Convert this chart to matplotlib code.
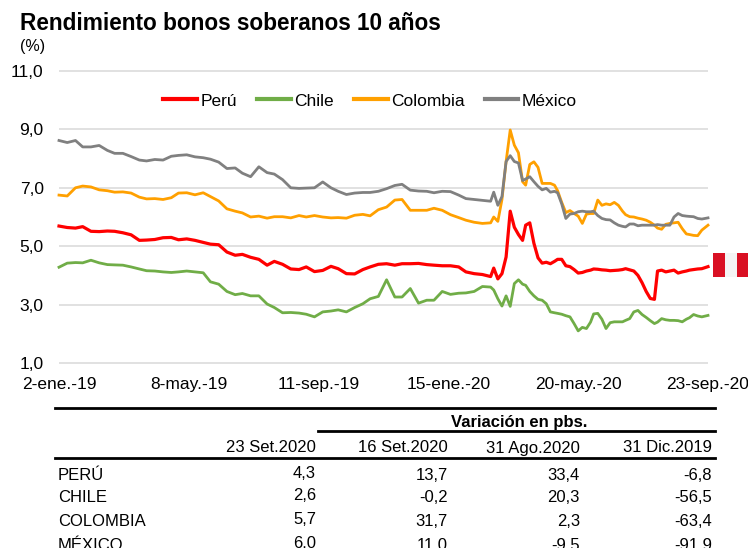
import matplotlib
matplotlib.use("Agg")
import matplotlib.pyplot as plt
from matplotlib.lines import Line2D
from matplotlib.patches import Rectangle

plt.rcParams['font.family'] = ['Liberation Sans', 'DejaVu Sans']

# ---------------- data ----------------
titulo = "Rendimiento bonos soberanos 10 años"
unidad = "(%)"

# days since 2-ene.-19
dias = [0, 8, 16, 23, 31, 39, 47, 54, 62, 70, 78, 85, 93, 101, 109, 116, 124, 132, 140, 147,
        155, 163, 171, 178, 186, 194, 202, 209, 217, 225, 233, 240, 248, 256, 264, 271, 279, 287,
        295, 302, 310, 318, 326, 333, 341, 349, 357, 364, 372, 380, 388, 395, 403, 411, 419,
        422, 426, 430, 434, 438, 442, 446, 450, 453, 457, 461, 465, 469, 473, 477, 481, 484, 488,
        492, 496, 500, 504, 508, 512, 516, 519, 523, 527, 531, 535, 539, 543, 547, 550, 554, 558,
        562, 566, 570, 574, 578, 581, 585, 589, 593, 597, 601, 605, 609, 612, 616, 620, 624, 630]

peru = [5.69, 5.64, 5.62, 5.67, 5.51, 5.50, 5.52, 5.51, 5.46, 5.39,
        5.20, 5.21, 5.23, 5.29, 5.30, 5.22, 5.25, 5.20, 5.13, 5.07,
        5.05, 4.80, 4.69, 4.72, 4.62, 4.55, 4.35, 4.48, 4.38, 4.22,
        4.20, 4.29, 4.13, 4.17, 4.31, 4.23, 4.06, 4.05, 4.20, 4.29,
        4.38, 4.40, 4.35, 4.40, 4.40, 4.41, 4.37, 4.35, 4.33, 4.33,
        4.29, 4.12, 4.06, 4.03, 3.96,
        4.25, 3.88, 4.06, 4.63, 6.20, 5.65, 5.40, 5.20, 5.72, 5.80,
        5.10, 4.60, 4.42, 4.45, 4.40, 4.48, 4.55, 4.55, 4.33, 4.30,
        4.20, 4.08, 4.10, 4.15, 4.18, 4.22, 4.21, 4.19, 4.18, 4.16,
        4.17, 4.18, 4.20, 4.23, 4.19, 4.15, 4.00, 3.75, 3.45, 3.21,
        3.18, 4.15, 4.18, 4.12, 4.15, 4.18, 4.08, 4.12, 4.15, 4.18,
        4.20, 4.22, 4.23, 4.30]

chile = [4.28, 4.42, 4.44, 4.43, 4.52, 4.43, 4.37, 4.36, 4.35, 4.29,
         4.22, 4.16, 4.15, 4.12, 4.10, 4.12, 4.15, 4.12, 4.09, 3.78,
         3.70, 3.45, 3.34, 3.38, 3.30, 3.30, 3.02, 2.90, 2.72, 2.73,
         2.71, 2.67, 2.58, 2.75, 2.78, 2.82, 2.75, 2.90, 3.03, 3.20,
         3.28, 3.85, 3.26, 3.26, 3.55, 3.05, 3.15, 3.15, 3.45, 3.35,
         3.39, 3.40, 3.45, 3.62, 3.60,
         3.50, 3.20, 2.95, 3.30, 2.94, 3.72, 3.85, 3.70, 3.66, 3.45,
         3.30, 3.18, 3.15, 3.03, 2.75, 2.72, 2.70, 2.67, 2.62, 2.58,
         2.35, 2.10, 2.22, 2.18, 2.40, 2.68, 2.70, 2.50, 2.18, 2.38,
         2.41, 2.41, 2.41, 2.46, 2.52, 2.75, 2.80, 2.66, 2.56, 2.45,
         2.35, 2.40, 2.52, 2.48, 2.46, 2.46, 2.45, 2.41, 2.50, 2.55,
         2.66, 2.61, 2.58, 2.63]

colombia = [6.75, 6.72, 7.00, 7.06, 7.03, 6.93, 6.90, 6.85, 6.86, 6.82,
            6.68, 6.62, 6.63, 6.60, 6.66, 6.82, 6.83, 6.76, 6.83, 6.70,
            6.55, 6.28, 6.20, 6.14, 6.00, 6.03, 5.96, 6.01, 6.01, 5.97,
            6.05, 6.00, 6.05, 6.00, 5.97, 5.98, 5.96, 6.06, 6.09, 6.04,
            6.25, 6.34, 6.58, 6.60, 6.23, 6.23, 6.23, 6.30, 6.23, 6.08,
            5.98, 5.89, 5.82, 5.78, 5.80,
            6.00, 5.85, 6.60, 7.90, 8.98, 8.46, 8.20, 7.21, 7.09, 7.80,
            7.89, 7.70, 7.15, 7.15, 7.15, 7.09, 6.90, 6.50, 6.15, 6.22,
            6.12, 6.03, 5.78, 6.10, 6.12, 6.12, 6.58, 6.40, 6.45, 6.42,
            6.50, 6.40, 6.20, 6.08, 6.01, 6.00, 5.96, 5.93, 5.89, 5.82,
            5.72, 5.62, 5.58, 5.75, 5.78, 5.80, 5.82, 5.60, 5.42, 5.40,
            5.37, 5.36, 5.55, 5.72]

mexico = [8.62, 8.55, 8.62, 8.40, 8.40, 8.45, 8.28, 8.18, 8.18, 8.07,
          7.95, 7.92, 7.97, 7.95, 8.08, 8.11, 8.13, 8.06, 8.03, 7.98,
          7.88, 7.66, 7.68, 7.50, 7.38, 7.72, 7.52, 7.47, 7.28, 7.00,
          6.98, 6.99, 7.00, 7.20, 7.00, 6.88, 6.77, 6.82, 6.84, 6.84,
          6.88, 6.97, 7.08, 7.12, 6.92, 6.89, 6.88, 6.83, 6.88, 6.87,
          6.75, 6.63, 6.60, 6.57, 6.54,
          6.85, 6.40, 6.70, 7.90, 8.10, 7.90, 7.85, 7.25, 7.30, 7.38,
          7.21, 7.05, 6.93, 6.98, 6.85, 6.88, 6.83, 6.45, 5.95, 6.10,
          6.12, 6.18, 6.20, 6.18, 6.18, 6.20, 6.05, 5.95, 5.91, 5.90,
          5.80, 5.72, 5.68, 5.66, 5.76, 5.76, 5.70, 5.72, 5.72, 5.72,
          5.72, 5.74, 5.72, 5.72, 5.72, 6.00, 6.12, 6.05, 6.03, 6.02,
          6.01, 5.95, 5.93, 5.97]

series_nombres = ["Perú", "Chile", "Colombia", "México"]
series_colores = ["#FF0000", "#70AD47", "#FFA000", "#808080"]

tick_dias = [0, 126, 252, 378, 504, 630]
tick_labels = ["2-ene.-19", "8-may.-19", "11-sep.-19", "15-ene.-20", "20-may.-20", "23-sep.-20"]
y_ticks = [1, 3, 5, 7, 9, 11]

tabla_paises = ["PERÚ", "CHILE", "COLOMBIA", "MÉXICO"]
tabla_cols = ["23 Set.2020", "16 Set.2020", "31 Ago.2020", "31 Dic.2019"]
nivel = [4.3, 2.6, 5.7, 6.0]
var_16set = [13.7, -0.2, 31.7, 11.0]
var_31ago = [33.4, 20.3, 2.3, -9.5]
var_31dic = [-6.8, -56.5, -63.4, -91.9]

# ---------------- figure ----------------
W, H = 748, 548
fig = plt.figure(figsize=(W / 100, H / 100), dpi=100)

def fx(x):
    return x / W

def fy(y):
    return 1 - y / H

ax_left, ax_right = 59, 708
ax_top, ax_bot = 71, 363
pad = 1.5
ax = fig.add_axes([fx(ax_left), fy(ax_bot + pad), (ax_right - ax_left) / W, (ax_bot - ax_top + 2 * pad) / H])
ypu = (ax_bot - ax_top) / 10.0
ax.set_ylim(1 - pad / ypu, 11 + pad / ypu)
ax.set_xlim(0, 630)

datos = [peru, chile, colombia, mexico]
anchos = [2.3, 2.0, 2.0, 2.0]
for vals, nom, col, lw in zip(datos, series_nombres, series_colores, anchos):
    ax.plot(dias, vals, color=col, lw=lw, label=nom, solid_joinstyle='round', clip_on=False)

ax.set_yticks(y_ticks)
ax.set_yticklabels([f"{v:.1f}".replace(".", ",") for v in y_ticks], fontsize=12.5)
ax.set_xticks(tick_dias)
ax.set_xticklabels(tick_labels, fontsize=12.5)
ax.tick_params(axis='both', length=0)
ax.tick_params(axis='y', pad=11)
ax.tick_params(axis='x', pad=9)
ax.grid(axis='y', color='#D9D9D9', lw=1.1)
ax.grid(axis='x', visible=False)
ax.set_axisbelow(True)
for s in ax.spines.values():
    s.set_visible(False)

leg = fig.legend(loc='center', bbox_to_anchor=(fx(370), fy(101)), ncol=4, frameon=False,
                 fontsize=12.5, handlelength=1.95, handletextpad=0.2, columnspacing=1.15)
for h in leg.legend_handles:
    h.set_linewidth(3)

fig.text(fx(20), fy(23), titulo, fontsize=16.3, fontweight='bold', va='center', ha='left')
fig.text(fx(20), fy(47), unidad, fontsize=11.5, va='center', ha='left')

# Peru flag
flag_y0, flag_y1 = 253, 277
for x0, x1, c in [(713, 725, '#D91023'), (725, 737, '#F4F4F4'), (737, 749, '#D91023')]:
    fig.add_artist(Rectangle((fx(x0), fy(flag_y1)), (x1 - x0) / W, (flag_y1 - flag_y0) / H,
                             transform=fig.transFigure, color=c, lw=0))

# ---------------- table ----------------
def hline(y, x0, x1, lw):
    fig.add_artist(Line2D([fx(x0), fx(x1)], [fy(y), fy(y)], transform=fig.transFigure,
                          color='black', lw=lw))

hline(408, 55, 715, 2.0)
hline(431, 318, 715, 2.0)
hline(458, 55, 715, 2.0)

fig.text(fx(519), fy(422), "Variación en pbs.", fontsize=12, fontweight='bold', ha='center', va='center')

col_right = [316, 448, 580, 712]
for xr, txt in zip(col_right, tabla_cols):
    fig.text(fx(xr), fy(448), txt, fontsize=12, ha='right', va='center')

def fmt(v):
    return f"{v:.1f}".replace(".", ",")

row_y = [475, 498, 522, 545]
for i, (pais, yrow) in enumerate(zip(tabla_paises, row_y)):
    fig.text(fx(58), fy(yrow), pais, fontsize=12, ha='left', va='center')
    for xr, col in zip(col_right, [nivel, var_16set, var_31ago, var_31dic]):
        fig.text(fx(xr), fy(yrow - 2 if xr == col_right[0] else yrow), fmt(col[i]),
                 fontsize=12, ha='right', va='center')

fig.savefig("out.png", dpi=100)
